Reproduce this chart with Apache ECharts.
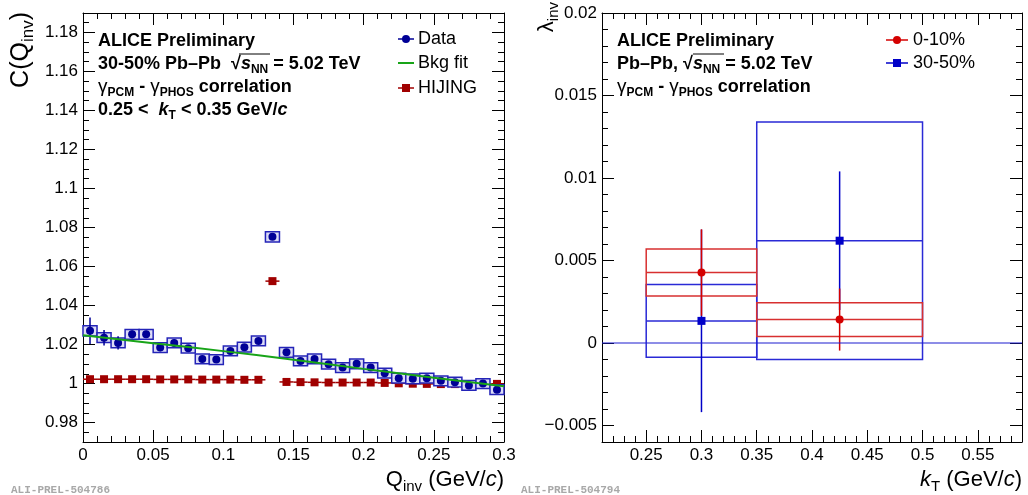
<!DOCTYPE html>
<html lang="en">
<head>
<meta charset="utf-8">
<title>ALICE gamma-gamma correlation</title>
<script src="https://cdn.jsdelivr.net/npm/echarts@6.0.0/dist/echarts.min.js"></script>
<style>
    html, body { margin: 0; padding: 0; background: #fff; }
    #chart { width: 1028px; height: 495px; }
</style>
</head>
<body>
<div id="chart"></div>
<script>
    // ---- left panel: C(Qinv), 30-50%, 0.25 < kT < 0.35 ----
    var qBins = [0.005, 0.015, 0.025, 0.035, 0.045, 0.055, 0.065, 0.075, 0.085, 0.095,
                 0.105, 0.115, 0.125, 0.135, 0.145, 0.155, 0.165, 0.175, 0.185, 0.195,
                 0.205, 0.215, 0.225, 0.235, 0.245, 0.255, 0.265, 0.275, 0.285, 0.295];
    var qBinHalf = 0.005;
    var cData = [1.0270, 1.0235, 1.0208, 1.0252, 1.0252, 1.0184, 1.0208, 1.0181, 1.0126, 1.0123,
                 1.0167, 1.0186, 1.0218, 1.0752, 1.0160, 1.0116, 1.0126, 1.0099, 1.0082, 1.0101,
                 1.0082, 1.0053, 1.0027, 1.0024, 1.0027, 1.0014, 1.0007, 0.9990, 1.0000, 0.9968];
    var cStat = [0.0068, 0.0040, 0.0034, 0.0020, 0.0019, 0.0018, 0.0018, 0.0017, 0.0017, 0.0016,
                 0.0016, 0.0016, 0.0015, 0.0015, 0.0015, 0.0015, 0.0014, 0.0014, 0.0014, 0.0014,
                 0.0013, 0.0013, 0.0013, 0.0013, 0.0012, 0.0012, 0.0012, 0.0012, 0.0012, 0.0012];
    var cSys = [0.0026, 0.0025, 0.0025, 0.0025, 0.0025, 0.0025, 0.0025, 0.0025, 0.0025, 0.0025,
                0.0025, 0.0025, 0.0025, 0.0026, 0.0025, 0.0025, 0.0025, 0.0025, 0.0025, 0.0025,
                0.0025, 0.0025, 0.0025, 0.0025, 0.0025, 0.0025, 0.0025, 0.0025, 0.0025, 0.0025];
    var hijing = [1.0022, 1.0022, 1.0022, 1.0022, 1.0022, 1.0021, 1.0021, 1.0021, 1.0020, 1.0020,
                  1.0020, 1.0019, 1.0019, 1.0525, 1.0008, 1.0007, 1.0006, 1.0005, 1.0005, 1.0005,
                  1.0005, 1.0003, 1.0001, 0.9999, 0.9998, 0.9997, 0.9997, 0.9997, 0.9998, 0.9998];
    var fitQ = [0, 0.05, 0.1, 0.15, 0.2, 0.25, 0.3];
    var fitC = [1.0248, 1.0207, 1.0166, 1.0122, 1.0075, 1.0030, 0.9986];
    var cTicks = [0.98, 1, 1.02, 1.04, 1.06, 1.08, 1.1, 1.12, 1.14, 1.16, 1.18];
    var qMin = 0, qMax = 0.3, cMin = 0.97, cMax = 1.19;

    // ---- right panel: lambda_inv vs kT ----
    var ktMid = [0.3, 0.425];
    var ktLow = [0.25, 0.35];
    var ktHigh = [0.35, 0.5];
    var lam010 = [0.00427, 0.00142];
    var stat010 = [0.00262, 0.00188];
    var sys010 = [0.00142, 0.00102];
    var lam3050 = [0.00134, 0.0062];
    var stat3050 = [0.00553, 0.0042];
    var sys3050 = [0.0022, 0.0072];
    var ktTicks = [0.25, 0.3, 0.35, 0.4, 0.45, 0.5, 0.55];
    var lamTicks = [-0.005, 0, 0.005, 0.01, 0.015, 0.02];
    var ktMin = 0.21, ktMax = 0.59, lamMin = -0.006, lamMax = 0.02;

    var FONT = '"Liberation Sans", Arial, Helvetica, sans-serif';
    var MONO = '"Liberation Mono", "DejaVu Sans Mono", monospace';

    function fmtTick(v) {
        return String(v).replace('-', '\u2212');
    }

    // frame axis: major ticks (custom values or interval), optional labels
    function frameAxis(gridIndex, position, min, max, opt) {
        var a = {
            type: 'value', gridIndex: gridIndex, position: position, min: min, max: max,
            splitLine: { show: false },
            axisLine: { show: true, onZero: false, lineStyle: { color: '#000', width: 1 } },
            axisTick: { show: true, inside: true, length: 12, lineStyle: { color: '#000' } },
            axisLabel: { show: !!opt.labels, margin: 5, fontSize: 17, fontFamily: FONT, color: '#000', formatter: fmtTick },
            silent: true
        };
        if (opt.ticks) {
            a.axisTick.customValues = opt.ticks;
            a.axisLabel.customValues = opt.ticks;
        }
        if (opt.interval) {
            a.interval = opt.interval;
            a.minorTick = { show: true, splitNumber: opt.minor, length: 6, lineStyle: { color: '#000' } };
        }
        return a;
    }

    // extra axis carrying only the short ticks
    function minorAxis(gridIndex, position, min, max, step) {
        return {
            type: 'value', gridIndex: gridIndex, position: position, min: min, max: max, interval: step,
            splitLine: { show: false },
            axisLine: { show: false, onZero: false },
            axisTick: { show: true, inside: true, length: 6, lineStyle: { color: '#000' } },
            axisLabel: { show: false },
            silent: true
        };
    }

    function renderHijing(params, api) {
        var q = api.value(0), c = api.value(1);
        var a = api.coord([q - qBinHalf, c]);
        var b = api.coord([q + qBinHalf, c]);
        var p = api.coord([q, c]);
        return {
            type: 'group', children: [
                { type: 'line', shape: { x1: a[0], y1: a[1], x2: b[0], y2: b[1] }, style: { stroke: '#a00000', lineWidth: 1.5 } },
                { type: 'rect', shape: { x: p[0] - 4, y: p[1] - 4, width: 8, height: 8 }, style: { fill: '#a00000' } }
            ]
        };
    }

    function renderData(params, api) {
        var q = api.value(0), c = api.value(1), stat = api.value(2), sys = api.value(3);
        var tl = api.coord([q - qBinHalf, c + sys]);
        var br = api.coord([q + qBinHalf, c - sys]);
        var top = api.coord([q, c + stat]);
        var bot = api.coord([q, c - stat]);
        var p = api.coord([q, c]);
        return {
            type: 'group', children: [
                { type: 'rect', shape: { x: tl[0], y: tl[1], width: br[0] - tl[0], height: br[1] - tl[1] },
                  style: { fill: '#dcdcf6', stroke: '#2424b8', lineWidth: 1.5 } },
                { type: 'line', shape: { x1: top[0], y1: top[1], x2: bot[0], y2: bot[1] }, style: { stroke: '#000096', lineWidth: 1.5 } },
                { type: 'circle', shape: { cx: p[0], cy: p[1], r: 4 }, style: { fill: '#000096' } }
            ]
        };
    }

    function lambdaRenderer(lineColor, markColor, square) {
        return function (params, api) {
            var kt = api.value(0), lam = api.value(1), stat = api.value(2), sys = api.value(3);
            var lo = api.value(4), hi = api.value(5);
            var tl = api.coord([lo, lam + sys]);
            var br = api.coord([hi, lam - sys]);
            var ml = api.coord([lo, lam]);
            var mr = api.coord([hi, lam]);
            var top = api.coord([kt, lam + stat]);
            var bot = api.coord([kt, lam - stat]);
            var p = api.coord([kt, lam]);
            var mark = square
                ? { type: 'rect', shape: { x: p[0] - 4, y: p[1] - 4, width: 8, height: 8 }, style: { fill: markColor } }
                : { type: 'circle', shape: { cx: p[0], cy: p[1], r: 4 }, style: { fill: markColor } };
            return {
                type: 'group', children: [
                    { type: 'rect', shape: { x: tl[0], y: tl[1], width: br[0] - tl[0], height: br[1] - tl[1] },
                      style: { fill: 'none', stroke: lineColor, lineWidth: 1.5 } },
                    { type: 'line', shape: { x1: ml[0], y1: ml[1], x2: mr[0], y2: mr[1] }, style: { stroke: lineColor, lineWidth: 1.5 } },
                    { type: 'line', shape: { x1: top[0], y1: top[1], x2: bot[0], y2: bot[1] }, style: { stroke: markColor, lineWidth: 1.5 } },
                    mark
                ]
            };
        };
    }

    var RICH = {
        it: { fontFamily: FONT, fontSize: 18, fontWeight: 'bold', fontStyle: 'italic' },
        sub: { fontFamily: FONT, fontSize: 12, fontWeight: 'bold', padding: [11, 0, 0, 0] },
        g: { fontFamily: FONT, fontSize: 19, fontWeight: 'normal' }
    };
    var TRICH = {
        n: { fontFamily: FONT, fontSize: 22 },
        it: { fontFamily: FONT, fontSize: 22, fontStyle: 'italic' },
        sub: { fontFamily: FONT, fontSize: 15, padding: [13, 0, 0, 0] }
    };
    var YRICH = {
        n: { fontFamily: FONT, fontSize: 25 },
        sub: { fontFamily: FONT, fontSize: 17, padding: [14, 0, 0, 0] }
    };

    function txt(x, y, text, style, rotation) {
        var s = {
            text: text, fontFamily: FONT, fontSize: 18, fontWeight: 'bold', fill: '#000',
            align: 'left', verticalAlign: 'middle', rich: RICH
        };
        for (var k in style) s[k] = style[k];
        return { type: 'text', x: x, y: y, rotation: rotation || 0, silent: true, style: s };
    }
    function seg(x1, y1, x2, y2, color, w) {
        return { type: 'line', silent: true, shape: { x1: x1, y1: y1, x2: x2, y2: y2 }, style: { stroke: color, lineWidth: w || 1.5 } };
    }
    function dot(cx, cy, color) {
        return { type: 'circle', silent: true, shape: { cx: cx, cy: cy, r: 4 }, style: { fill: color } };
    }
    function sq(cx, cy, color) {
        return { type: 'rect', silent: true, shape: { x: cx - 4, y: cy - 4, width: 8, height: 8 }, style: { fill: color } };
    }

    var chart = echarts.init(document.getElementById('chart'), null, { renderer: 'canvas' });

    var option = {
        animation: false,
        backgroundColor: '#fff',
        grid: [
            { left: 83, top: 13, width: 421, height: 429 },
            { left: 602, top: 13, width: 420, height: 429 }
        ],
        xAxis: [
            frameAxis(0, 'bottom', qMin, qMax, { labels: true, interval: 0.05, minor: 5 }),
            frameAxis(0, 'top', qMin, qMax, { interval: 0.05, minor: 5 }),
            frameAxis(1, 'bottom', ktMin, ktMax, { labels: true, ticks: ktTicks }),
            minorAxis(1, 'bottom', ktMin, ktMax, 0.01),
            frameAxis(1, 'top', ktMin, ktMax, { ticks: ktTicks }),
            minorAxis(1, 'top', ktMin, ktMax, 0.01)
        ],
        yAxis: [
            frameAxis(0, 'left', cMin, cMax, { labels: true, ticks: cTicks }),
            minorAxis(0, 'left', cMin, cMax, 0.005),
            frameAxis(0, 'right', cMin, cMax, { ticks: cTicks }),
            minorAxis(0, 'right', cMin, cMax, 0.005),
            frameAxis(1, 'left', lamMin, lamMax, { labels: true, ticks: lamTicks }),
            minorAxis(1, 'left', lamMin, lamMax, 0.001),
            frameAxis(1, 'right', lamMin, lamMax, { ticks: lamTicks }),
            minorAxis(1, 'right', lamMin, lamMax, 0.001)
        ],
        series: [
            {
                name: 'Bkg fit', type: 'line', xAxisIndex: 0, yAxisIndex: 0, silent: true,
                data: fitQ.map(function (q, i) { return [q, fitC[i]]; }),
                symbol: 'none', smooth: true, lineStyle: { color: '#18a418', width: 2 }
            },
            {
                name: 'HIJING', type: 'custom', xAxisIndex: 0, yAxisIndex: 0, silent: true,
                renderItem: renderHijing, encode: { x: 0, y: 1 },
                data: qBins.map(function (q, i) { return [q, hijing[i]]; })
            },
            {
                name: 'Data', type: 'custom', xAxisIndex: 0, yAxisIndex: 0, silent: true,
                renderItem: renderData, encode: { x: 0, y: 1 },
                data: qBins.map(function (q, i) { return [q, cData[i], cStat[i], cSys[i]]; })
            },
            {
                name: 'zero', type: 'line', xAxisIndex: 2, yAxisIndex: 4, silent: true,
                data: [[ktMin, 0], [ktMax, 0]], symbol: 'none',
                lineStyle: { color: '#1c1cd0', width: 1.2 }
            },
            {
                name: '30-50%', type: 'custom', xAxisIndex: 2, yAxisIndex: 4, silent: true,
                renderItem: lambdaRenderer('#2a2ad6', '#0000c8', true), encode: { x: 0, y: 1 },
                data: ktMid.map(function (k, i) { return [k, lam3050[i], stat3050[i], sys3050[i], ktLow[i], ktHigh[i]]; })
            },
            {
                name: '0-10%', type: 'custom', xAxisIndex: 2, yAxisIndex: 4, silent: true,
                renderItem: lambdaRenderer('#d83030', '#d40000', false), encode: { x: 0, y: 1 },
                data: ktMid.map(function (k, i) { return [k, lam010[i], stat010[i], sys010[i], ktLow[i], ktHigh[i]]; })
            }
        ],
        graphic: [
            // left panel labels
            txt(98, 41, 'ALICE Preliminary', {}),
            txt(98, 64, '30-50% Pb\u2013Pb  \u221a{it|s}{sub|NN} = 5.02 TeV', {}),
            seg(239, 54, 270, 54, '#000', 1),
            txt(98, 87, '{g|\u03b3}{sub|PCM} - {g|\u03b3}{sub|PHOS} correlation', {}),
            txt(98, 110, '0.25 <  {it|k}{sub|T} < 0.35 GeV/{it|c}', {}),
            seg(398, 39, 414, 39, '#000096'), dot(406, 39, '#000096'),
            txt(418, 39, 'Data', { fontWeight: 'normal' }),
            seg(398, 63, 414, 63, '#18a418', 2),
            txt(418, 63, 'Bkg fit', { fontWeight: 'normal' }),
            seg(398, 88, 414, 88, '#a00000'), sq(406, 88, '#a00000'),
            txt(418, 88, 'HIJING', { fontWeight: 'normal' }),
            // right panel labels
            txt(617, 41, 'ALICE Preliminary', {}),
            txt(617, 64, 'Pb\u2013Pb, \u221a{it|s}{sub|NN} = 5.02 TeV', {}),
            seg(693, 54, 724, 54, '#000', 1),
            txt(617, 87, '{g|\u03b3}{sub|PCM} - {g|\u03b3}{sub|PHOS} correlation', {}),
            seg(886, 40, 908, 40, '#d40000'), dot(897, 40, '#d40000'),
            txt(913, 40, '0-10%', { fontWeight: 'normal' }),
            seg(886, 63, 908, 63, '#0000c8'), sq(897, 63, '#0000c8'),
            txt(913, 63, '30-50%', { fontWeight: 'normal' }),
            // axis titles
            txt(21, 12, '{n|C(Q}{sub|inv}{n|)}', { fontSize: 25, fontWeight: 'normal', align: 'right', rich: YRICH }, Math.PI / 2),
            txt(504, 480, '{n|Q}{sub|inv} (GeV/{it|c})', { fontSize: 22, fontWeight: 'normal', align: 'right', rich: TRICH }),
            txt(547, 2, '{n|\u03bb}{sub|inv}', { fontSize: 22, fontWeight: 'normal', align: 'right', rich: TRICH }, Math.PI / 2),
            txt(1022, 480, '{it|k}{sub|T} (GeV/{it|c})', { fontSize: 22, fontWeight: 'normal', align: 'right', rich: TRICH }),
            // preliminary ids
            txt(11, 490, 'ALI-PREL-504786', { fontFamily: MONO, fontSize: 11, fill: '#a8a8a8' }),
            txt(521, 490, 'ALI-PREL-504794', { fontFamily: MONO, fontSize: 11, fill: '#a8a8a8' })
        ]
    };

    chart.setOption(option);
</script>
</body>
</html>
